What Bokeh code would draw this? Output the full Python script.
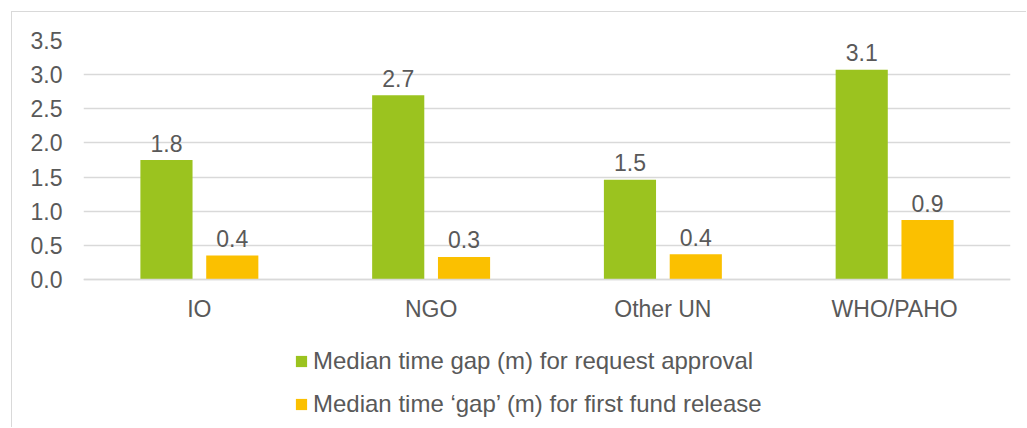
from bokeh.plotting import figure
from bokeh.models import (ColumnDataSource, FactorRange, Legend, LegendItem, FixedTicker,
                          NumeralTickFormatter, CategoricalAxis, Range1d)
from bokeh.transform import dodge
from bokeh.core.properties import value
from bokeh.embed import file_html
from bokeh.resources import INLINE

categories = ["IO", "NGO", "Other UN", "WHO/PAHO"]
approval = [1.75, 2.70, 1.46, 3.07]
release = [0.35, 0.33, 0.37, 0.87]
approval_labels = ["1.8", "2.7", "1.5", "3.1"]
release_labels = ["0.4", "0.3", "0.4", "0.9"]
y_ticks = [0.0, 0.5, 1.0, 1.5, 2.0, 2.5, 3.0, 3.5]
series_names = ["Median time gap (m) for request approval",
                "Median time \u2018gap\u2019 (m) for first fund release"]

GREEN = "#9BC31F"
YELLOW = "#FBC000"
TEXT = "#595959"
GRID = "#D9D9D9"
FONT = "Liberation Sans"
FS = "23px"

# layout (canvas pixels)
W, H = 1015, 416
LEFT, RIGHT, TOP = 71, 998, 28
ZERO_Y = 267
px_per_unit = (ZERO_Y - TOP) / 3.5
y_start = -(H - ZERO_Y) / px_per_unit

src = ColumnDataSource(dict(cat=categories, a=approval, r=release,
                            al=approval_labels, rl=release_labels))

p = figure(x_range=FactorRange(*categories, range_padding=0), y_range=Range1d(y_start, 3.5),
           width=W, height=H, output_backend="svg", toolbar_location=None,
           x_axis_location=None,
           min_border_left=LEFT, min_border_right=W - RIGHT, min_border_top=TOP, min_border_bottom=0)
p.styles = {"margin-left": "11px", "margin-top": "11px",
            "border-left": "1px solid #D9D9D9", "border-top": "1px solid #D9D9D9"}
p.outline_line_color = None

ga = p.vbar(x=dodge("cat", -0.142, range=p.x_range), top="a", width=0.225, source=src,
            fill_color=GREEN, line_color=None)
gr = p.vbar(x=dodge("cat", 0.142, range=p.x_range), top="r", width=0.225, source=src,
            fill_color=YELLOW, line_color=None)

p.text(x=dodge("cat", -0.142, range=p.x_range), y="a", text="al", source=src,
       text_align="center", text_baseline="alphabetic", y_offset=-17,
       text_font=value(FONT), text_font_size=FS, text_color=TEXT)
p.text(x=dodge("cat", 0.142, range=p.x_range), y="r", text="rl", source=src,
       text_align="center", text_baseline="alphabetic", y_offset=-17,
       text_font=value(FONT), text_font_size=FS, text_color=TEXT)

p.xgrid.grid_line_color = None
p.ygrid.grid_line_color = GRID
p.ygrid.grid_line_width = 1.5
p.ygrid.ticker = FixedTicker(ticks=y_ticks)
p.yaxis.ticker = FixedTicker(ticks=y_ticks)
p.yaxis.formatter = NumeralTickFormatter(format="0.0")
p.yaxis.axis_line_color = None
p.yaxis.major_tick_line_color = None
p.yaxis.minor_tick_line_color = None
p.yaxis.major_label_standoff = 15
p.yaxis.major_label_text_font = FONT
p.yaxis.major_label_text_font_size = FS
p.yaxis.major_label_text_color = TEXT

xaxis = CategoricalAxis(fixed_location=0)
xaxis.axis_line_color = GRID
xaxis.axis_line_width = 1.5
xaxis.major_tick_line_color = None
xaxis.minor_tick_line_color = None
xaxis.major_label_standoff = 10
xaxis.major_label_text_font = FONT
xaxis.major_label_text_font_size = FS
xaxis.major_label_text_color = TEXT
p.add_layout(xaxis, "below")

legend = Legend(items=[LegendItem(label=series_names[0], renderers=[ga]),
                       LegendItem(label=series_names[1], renderers=[gr])],
                orientation="vertical", location=(282 - LEFT, 10),
                glyph_width=14, glyph_height=14, label_standoff=5, spacing=15,
                padding=0, margin=0, border_line_color=None, background_fill_alpha=0,
                label_text_font=FONT, label_text_font_size="24px", label_text_color=TEXT,
                label_height=20)
p.add_layout(legend, "center")

open("out.html", "w").write(file_html(p, INLINE))
